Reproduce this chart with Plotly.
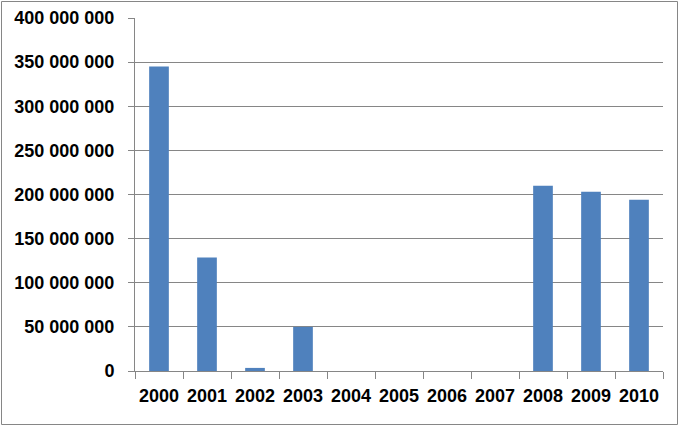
import plotly.graph_objects as go

years = ["2000", "2001", "2002", "2003", "2004", "2005", "2006", "2007", "2008", "2009", "2010"]
values = [345000000, 128500000, 3500000, 50000000, -2000000, 0, 0, 0, 210000000, 203000000, 194000000]
y_ticks = [0, 50000000, 100000000, 150000000, 200000000, 250000000, 300000000, 350000000, 400000000]
y_tick_labels = ["0", "50 000 000", "100 000 000", "150 000 000", "200 000 000",
                 "250 000 000", "300 000 000", "350 000 000", "400 000 000"]

W, H = 680, 426
L, R, T, B = 135, 17, 18, 55
pw, ph = W - L - R, H - T - B

fig = go.Figure(go.Bar(x=years, y=values, marker=dict(color="#4F81BD", line=dict(width=0)),
                       width=0.41, cliponaxis=False))

tf = dict(family="Liberation Sans, Arial", size=18, color="#000000", weight="bold")
fig.update_layout(
    width=W, height=H,
    margin=dict(l=L, r=R, t=T, b=B),
    paper_bgcolor="white", plot_bgcolor="white",
    showlegend=False,
    xaxis=dict(type="category", showline=True, linecolor="#868686", linewidth=1,
               ticks="outside", tickson="boundaries", ticklen=7, tickcolor="#868686",
               tickfont=tf, tickangle=0, automargin=False, ticklabelstandoff=8,
               showgrid=False, zeroline=False),
    yaxis=dict(range=[0, 400000000], tickvals=y_ticks, ticktext=y_tick_labels,
               showline=True, linecolor="#868686", linewidth=1,
               ticks="outside", ticklen=6, tickcolor="#868686",
               tickfont=tf, automargin=False, ticklabelstandoff=10,
               showgrid=True, gridcolor="#868686", gridwidth=1, zeroline=False),
    shapes=[dict(type="rect", xref="paper", yref="paper",
                 x0=(1.5 - L) / pw, x1=(677.5 - L) / pw,
                 y0=(H - B - 424.5) / ph, y1=(H - B - 1.5) / ph,
                 line=dict(color="#868686", width=1), fillcolor="rgba(0,0,0,0)", layer="below")],
)
fig.write_html("out.html", config={"displayModeBar": False},
               post_script="document.body.style.margin='0';document.body.style.padding='0';")
